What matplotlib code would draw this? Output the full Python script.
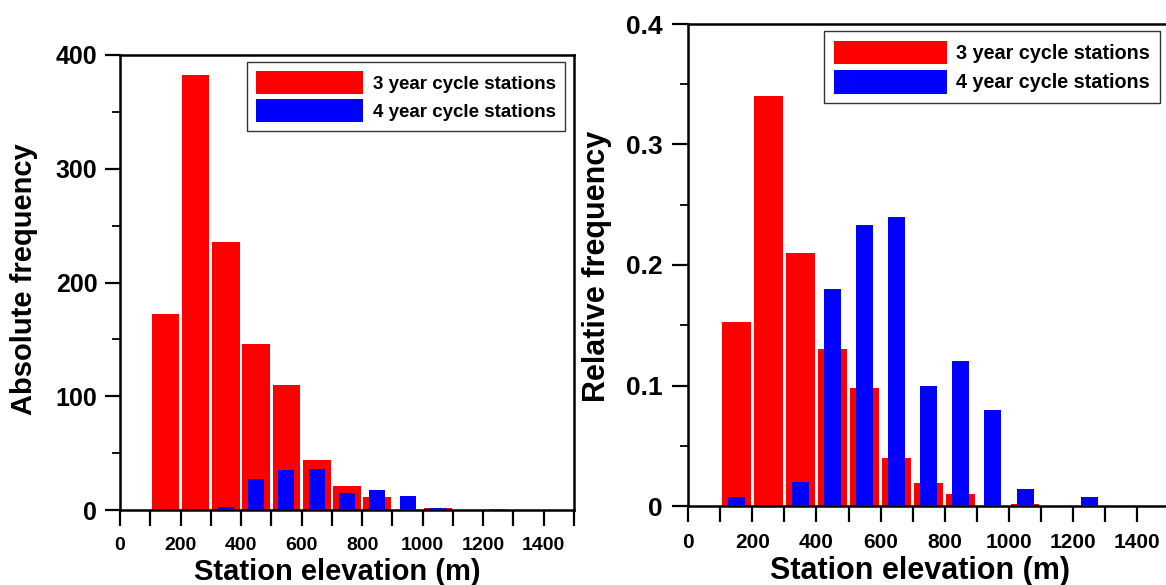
import matplotlib
matplotlib.use('Agg')
import matplotlib.pyplot as plt
from matplotlib.ticker import MultipleLocator, FuncFormatter

plt.rcParams['font.family'] = ['Liberation Sans', 'DejaVu Sans']
plt.rcParams['font.weight'] = 'bold'

# ---- data ----
bin_lower = [100, 200, 300, 400, 500, 600, 700, 800, 900, 1000, 1100, 1200, 1300, 1400]
bin_width = 100
red_counts = [172, 382, 236, 146, 110, 44, 21, 11, 0, 2, 0, 0, 0, 0]
blue_counts = [1, 0, 3, 27, 35, 36, 15, 18, 12, 2, 0, 1, 0, 0]
red_rel = [0.153, 0.340, 0.210, 0.130, 0.098, 0.040, 0.019, 0.010, 0.0, 0.002, 0.0, 0.0, 0.0, 0.0]
blue_rel = [0.0075, 0.0, 0.020, 0.180, 0.233, 0.240, 0.100, 0.120, 0.080, 0.014, 0.0, 0.0075, 0.0, 0.0]
label_red = '3 year cycle stations'
label_blue = '4 year cycle stations'
xlabel = 'Station elevation (m)'
ylabel_left = 'Absolute frequency'
ylabel_right = 'Relative frequency'

centers = [b + bin_width / 2 for b in bin_lower]

W, H = 1166, 585
fig = plt.figure(figsize=(W / 100, H / 100), dpi=100)

ax1 = fig.add_axes([120 / W, (H - 510) / H, 454 / W, 455 / H])
ax2 = fig.add_axes([688 / W, (H - 506) / H, 481.5 / W, 482 / H])


def style(ax, ymax, ymaj, ymin, xfs, yfs, ypad, ymajlen, yminlen, fmt=None):
    ax.set_xlim(0, 1500)
    ax.set_ylim(0, ymax)
    for s in ax.spines.values():
        s.set_linewidth(1.8)
    ax.xaxis.set_major_locator(MultipleLocator(200))
    ax.xaxis.set_minor_locator(MultipleLocator(100))
    ax.yaxis.set_major_locator(MultipleLocator(ymaj))
    ax.yaxis.set_minor_locator(MultipleLocator(ymin))
    ax.tick_params(axis='x', which='both', direction='out', length=11.5, width=1.6,
                   top=False, labelsize=xfs, pad=8)
    ax.tick_params(axis='y', which='major', direction='out', length=ymajlen, width=1.6,
                   right=False, labelsize=yfs, pad=ypad)
    ax.tick_params(axis='y', which='minor', direction='out', length=yminlen, width=1.3,
                   right=False)
    ax.xaxis.set_major_formatter(FuncFormatter(lambda v, p: '%d' % v if v <= 1400 else ''))
    if fmt is not None:
        ax.yaxis.set_major_formatter(FuncFormatter(fmt))
    for t in ax.get_xticklabels() + ax.get_yticklabels():
        t.set_fontweight('bold')


# left panel
ax1.bar(centers, red_counts, width=91, color='#ff0000', label=label_red, zorder=2)
ax1.bar(centers, blue_counts, width=53, color='#0000ff', label=label_blue, zorder=3)
style(ax1, 400, 100, 50, 14, 18, 5.5, 10.8, 6.0)

# right panel
ax2.bar(centers, red_rel, width=90, color='#ff0000', label=label_red, zorder=2)
ax2.bar(centers, blue_rel, width=53, color='#0000ff', label=label_blue, zorder=3)
style(ax2, 0.4, 0.1, 0.05, 15, 19, 6.5, 11.5, 6.0,
      fmt=lambda v, p: '0' if abs(v) < 1e-9 else '%.1f' % v)

# legends
lg1 = ax1.legend(loc='upper right', bbox_to_anchor=(565 / W, 1 - 62 / H),
                 bbox_transform=fig.transFigure, borderaxespad=0,
                 prop={'size': 13.5, 'weight': 'bold'}, handlelength=5.7, handleheight=1.45,
                 labelspacing=0.3, handletextpad=0.5, borderpad=0.5,
                 fancybox=False, framealpha=1, edgecolor='#333333')
lg1.get_frame().set_linewidth(1.0)
lg2 = ax2.legend(loc='upper right', bbox_to_anchor=(1160 / W, 1 - 31 / H),
                 bbox_transform=fig.transFigure, borderaxespad=0,
                 prop={'size': 14.2, 'weight': 'bold'}, handlelength=5.7, handleheight=1.45,
                 labelspacing=0.3, handletextpad=0.5, borderpad=0.5,
                 fancybox=False, framealpha=1, edgecolor='#333333')
lg2.get_frame().set_linewidth(1.0)

# axis labels
fig.text(337 / W, (H - 580) / H, xlabel, ha='center', va='baseline', fontsize=21, fontweight='bold')
fig.text(920 / W, (H - 579) / H, xlabel, ha='center', va='baseline', fontsize=22, fontweight='bold')
fig.text(24 / W, 1 - 279 / H, ylabel_left, ha='center', va='center', rotation=90,
         fontsize=21, fontweight='bold')
fig.text(597 / W, 1 - 266 / H, ylabel_right, ha='center', va='center', rotation=90,
         fontsize=22, fontweight='bold')

fig.savefig('out.png', dpi=100)
